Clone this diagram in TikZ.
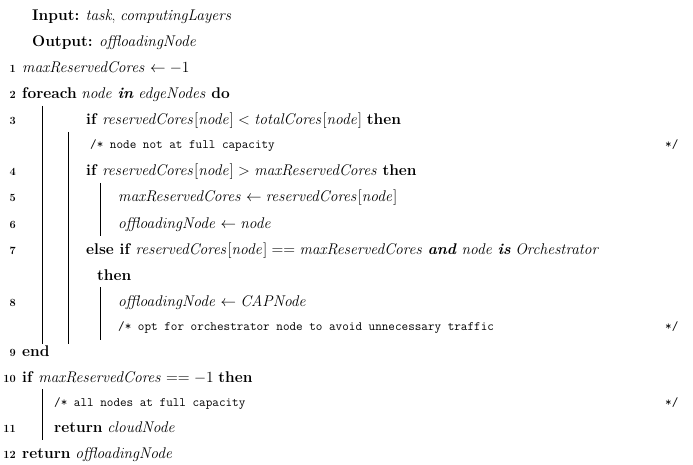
\RequirePackage{fix-cm}
\documentclass[tikz,border=0pt]{standalone}
\usepackage{amsmath}
\begin{document}
\begin{tikzpicture}[x=1pt,y=-1pt,
  every node/.style={font=\fontsize{15.5}{18}\selectfont},
  txt/.style={anchor=base west,inner sep=0pt},
  num/.style={anchor=base east,inner sep=0pt,font=\fontsize{11}{12}\selectfont\bfseries},
  cmt/.style={anchor=base west,inner sep=0pt,font=\fontsize{12.8}{14}\selectfont\ttfamily},
  bar/.style={line width=0.6pt}]
\useasboundingbox (0,0) rectangle (693,465);
\node[txt] (in) at (32,21) {\textbf{Input:} \textit{task}, \textit{computingLayers}};
\node[txt] (out) at (32,47) {\textbf{Output:} $\mathit{offloadingNode}$};
\node[num] (n1) at (16,73) {1};
\node[txt] (l1) at (22,73) {$\mathit{maxReservedCores} \leftarrow -1$};
\node[num] (n2) at (16,99) {2};
\node[txt] (l2) at (22,99) {\textbf{foreach} $\mathit{node}$ \textbf{\textit{in}} $\mathit{edgeNodes}$ \textbf{do}};
\node[num] (n3) at (16,125) {3};
\node[txt] (l3) at (86,125) {\textbf{if} $\mathit{reservedCores}[\mathit{node}] < \mathit{totalCores}[\mathit{node}]$ \textbf{then}};
\node[cmt] (c3) at (90,149) {/* node not at full capacity};
\node[cmt] (e3) at (665,149) {*/};
\node[num] (n4) at (16,176) {4};
\node[txt] (l4) at (86,176) {\textbf{if} $\mathit{reservedCores}[\mathit{node}] > \mathit{maxReservedCores}$ \textbf{then}};
\node[num] (n5) at (16,202) {5};
\node[txt] (l5) at (118,202) {$\mathit{maxReservedCores} \leftarrow \mathit{reservedCores}[\mathit{node}]$};
\node[num] (n6) at (16,228) {6};
\node[txt] (l6) at (118,228) {$\mathit{offloadingNode} \leftarrow \mathit{node}$};
\node[num] (n7) at (16,254) {7};
\node[txt] (l7) at (86,254) {\textbf{else if} $\mathit{reservedCores}[\mathit{node}] == \mathit{maxReservedCores}$ \textbf{\textit{and}} $\mathit{node}$ \textbf{\textit{is}} $\mathit{Orchestrator}$};
\node[txt] (l7b) at (97,280) {\textbf{then}};
\node[num] (n8) at (16,306) {8};
\node[txt] (l8) at (118,306) {$\mathit{offloadingNode} \leftarrow \mathit{CAPNode}$};
\node[cmt] (c8) at (118,330) {/* opt for orchestrator node to avoid unnecessary traffic};
\node[cmt] (e8) at (665,330) {*/};
\node[num] (n9) at (16,356) {9};
\node[txt] (l9) at (22,356) {\textbf{end}};
\node[num] (n10) at (16,382) {10};
\node[txt] (l10) at (22,382) {\textbf{if} $\mathit{maxReservedCores} == -1$ \textbf{then}};
\node[cmt] (c10) at (54,406) {/* all nodes at full capacity};
\node[cmt] (e10) at (665,406) {*/};
\node[num] (n11) at (16,432) {11};
\node[txt] (l11) at (54,432) {\textbf{return} $\mathit{cloudNode}$};
\node[num] (n12) at (16,458) {12};
\node[txt] (l12) at (22,458) {\textbf{return} $\mathit{offloadingNode}$};
\coordinate (b1t) at (42,106); \coordinate (b1b) at (42,344);
\coordinate (b2t) at (68,132); \coordinate (b2b) at (68,344);
\coordinate (b3t) at (100,183); \coordinate (b3b) at (100,236);
\coordinate (b4t) at (100,287); \coordinate (b4b) at (100,340);
\coordinate (b5t) at (42,389); \coordinate (b5b) at (42,440);
\draw[bar] (b1t) -- (b1b);
\draw[bar] (b2t) -- (b2b);
\draw[bar] (b3t) -- (b3b);
\draw[bar] (b4t) -- (b4b);
\draw[bar] (b5t) -- (b5b);
\end{tikzpicture}
\end{document}
